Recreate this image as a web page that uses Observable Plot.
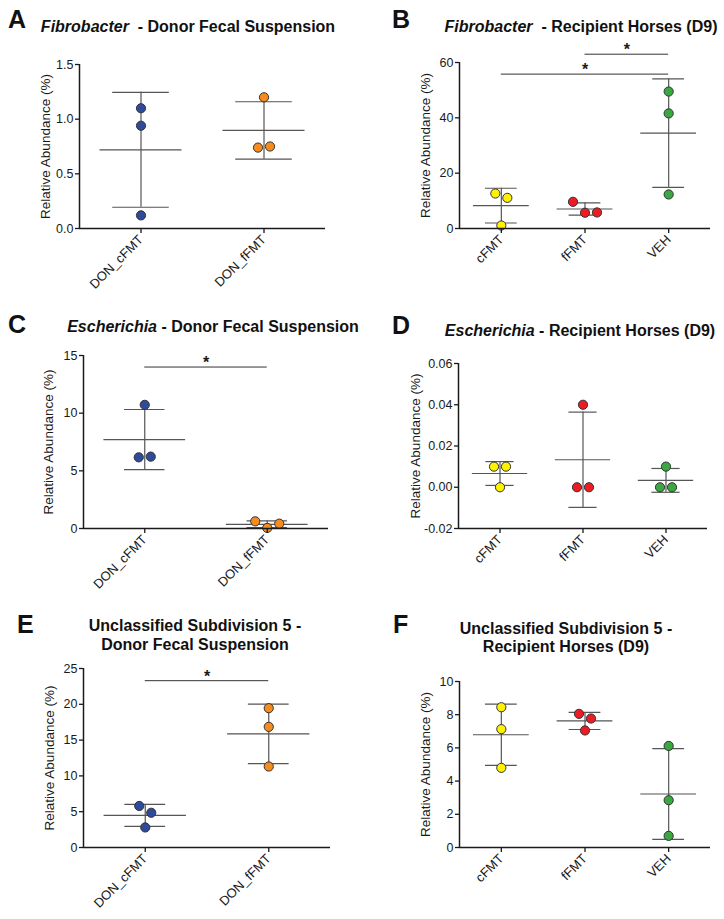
<!DOCTYPE html>
<html><head><meta charset="utf-8">
<script src="https://cdn.jsdelivr.net/npm/d3@7"></script>
<script src="https://cdn.jsdelivr.net/npm/@observablehq/plot@0.6"></script>
<style>
body{margin:0;background:#fff;}
#root{position:relative;width:724px;height:919px;background:#fff;font-family:Arial,"Liberation Sans",sans-serif;color:#111;overflow:hidden;}
.panel{position:absolute;}
.letter{position:absolute;font-weight:bold;font-size:25px;line-height:25px;}
.title{position:absolute;font-weight:bold;font-size:16px;line-height:18.5px;text-align:center;width:400px;white-space:nowrap;}
</style></head>
<body><div id="root"></div>
<script>
// ---------- data ----------
const donorGroups = ["DON_cFMT", "DON_fFMT"];
const recipGroups = ["cFMT", "fFMT", "VEH"];
const donorColors = ["#2e4b9b", "#f68b1f"];
const recipColors = ["#fff200", "#ed1c24", "#3aa842"];

// Fibrobacter - donor
const fibroDonCFMT = [1.10, 0.94, 0.12];
const fibroDonFFMT = [1.20, 0.74, 0.75];
// Fibrobacter - recipients
const fibroRecCFMT = [12.65, 11.08, 1.08];
const fibroRecFFMT = [9.64, 5.7, 5.8];
const fibroRecVEH = [49.5, 41.6, 12.3];
const fibroRecBrackets = [{from: "fFMT", to: "VEH", y: 63}, {from: "cFMT", to: "VEH", y: 55.8}];
// Escherichia - donor
const escDonCFMT = [10.72, 6.17, 6.23];
const escDonFFMT = [0.62, 0.05, 0.42];
const escDonBrackets = [{from: "DON_cFMT", to: "DON_fFMT", y: 14}];
// Escherichia - recipients
const escRecCFMT = [0.010, 0.000, 0.010];
const escRecFFMT = [0.000, 0.040, 0.000];
const escRecVEH = [0.000, 0.010, 0.000];
// Unclassified Subdivision 5 - donor
const usDonCFMT = [5.8, 4.85, 2.8];
const usDonFFMT = [19.46, 16.85, 11.31];
const usDonBrackets = [{from: "DON_cFMT", to: "DON_fFMT", y: 23.3}];
// Unclassified Subdivision 5 - recipients
const usRecCFMT = [8.45, 7.13, 4.80];
const usRecFFMT = [8.05, 7.77, 7.05];
const usRecVEH = [6.12, 2.85, 0.70];

// tick labels
const ticksA = [0, 0.5, 1, 1.5];
const ticksB = [0, 20, 40, 60];
const ticksC = [0, 5, 10, 15];
const ticksD = [-0.02, 0, 0.02, 0.04, 0.06];
const ticksE = [0, 5, 10, 15, 20, 25];
const ticksF = [0, 2, 4, 6, 8, 10];

const yLabel = "Relative Abundance (%)";

// ---------- layout ----------
const panels = [
  {letter: "A", lx: 8, ly: 7, title: "<i>Fibrobacter</i>&nbsp; - Donor Fecal Suspension", tx: 188, ty: 18,
   groups: donorGroups, colors: donorColors, values: [fibroDonCFMT, fibroDonFFMT], ticks: ticksA, dec: 1, brackets: [],
   left: 0, top: 0, w: 362, h: 300, mL: 79, mR: 37, mT: 64, mB: 72, cap: 0.23, lo: 39},
  {letter: "B", lx: 392, ly: 7, title: "<i>Fibrobacter</i>&nbsp; - Recipient Horses (D9)", tx: 581, ty: 18,
   groups: recipGroups, colors: recipColors, values: [fibroRecCFMT, fibroRecFFMT, fibroRecVEH], ticks: ticksB, dec: 0, brackets: fibroRecBrackets,
   left: 362, top: 0, w: 362, h: 300, mL: 97, mR: 14, mT: 62, mB: 72, cap: 0.19, lo: 39},
  {letter: "C", lx: 8, ly: 312, title: "<i>Escherichia</i> - Donor Fecal Suspension", tx: 213, ty: 318,
   groups: donorGroups, colors: donorColors, values: [escDonCFMT, escDonFFMT], ticks: ticksC, dec: 0, brackets: escDonBrackets,
   left: 0, top: 300, w: 362, h: 300, mL: 83, mR: 34, mT: 55, mB: 72, cap: 0.165, lo: 40},
  {letter: "D", lx: 392, ly: 313, title: "<i>Escherichia</i> - Recipient Horses (D9)", tx: 580, ty: 321.5,
   groups: recipGroups, colors: recipColors, values: [escRecCFMT, escRecFFMT, escRecVEH], ticks: ticksD, dec: 2, brackets: [],
   left: 362, top: 300, w: 362, h: 300, mL: 96, mR: 17, mT: 63, mB: 72, cap: 0.17, lo: 48},
  {letter: "E", lx: 17, ly: 612, title: "Unclassified Subdivision 5 -<br>Donor Fecal Suspension", tx: 195, ty: 617,
   groups: donorGroups, colors: donorColors, values: [usDonCFMT, usDonFFMT], ticks: ticksE, dec: 0, brackets: usDonBrackets,
   left: 0, top: 600, w: 362, h: 319, mL: 83, mR: 32, mT: 68, mB: 72, cap: 0.165, lo: 39},
  {letter: "F", lx: 393, ly: 612, title: "Unclassified Subdivision 5 -<br>Recipient Horses (D9)", tx: 566, ty: 619.5,
   groups: recipGroups, colors: recipColors, values: [usRecCFMT, usRecFFMT, usRecVEH], ticks: ticksF, dec: 0, brackets: [],
   left: 362, top: 600, w: 362, h: 319, mL: 97, mR: 14, mT: 81, mB: 72, cap: 0.19, lo: 39}
];

const lineColor = "#555";
const axisColor = "#1a1a1a";
const SPACING = 12;

// horizontal spreading of overlapping dots (like a scatter dot plot)
function slots(vals, pxPerUnit) {
  const idx = d3.range(vals.length).sort((a, b) => vals[b] - vals[a]);
  const out = new Array(vals.length).fill(0);
  let cluster = [idx[0]];
  const flush = () => {
    const c = cluster.slice().sort((a, b) => a - b);
    c.forEach((k, j) => out[k] = j - (c.length - 1) / 2);
  };
  for (let t = 1; t < idx.length; t++) {
    if ((vals[idx[t - 1]] - vals[idx[t]]) * pxPerUnit < 11.5) cluster.push(idx[t]);
    else { flush(); cluster = [idx[t]]; }
  }
  flush();
  return out;
}

const root = document.getElementById("root");

for (const p of panels) {
  const n = p.groups.length;
  const yDomain = [p.ticks[0], p.ticks[p.ticks.length - 1]];
  const xDomain = [-0.5, n - 0.5];
  const pxPerUnit = (p.h - p.mT - p.mB) / (yDomain[1] - yDomain[0]);
  const stats = p.groups.map((g, i) => ({i, g, mean: d3.mean(p.values[i]), sd: d3.deviation(p.values[i])}));
  const pts = [];
  p.values.forEach((vals, i) => {
    const s = slots(vals, pxPerUnit);
    vals.forEach((v, k) => pts.push({i, g: p.groups[i], v, slot: s[k]}));
  });
  const slotVals = Array.from(new Set(pts.map(d => d.slot)));
  const gi = g => p.groups.indexOf(g);

  const chart = Plot.plot({
    width: p.w, height: p.h,
    marginLeft: p.mL, marginRight: p.mR, marginTop: p.mT, marginBottom: p.mB,
    x: {domain: xDomain},
    y: {domain: yDomain},
    color: {domain: p.groups, range: p.colors},
    style: {fontFamily: 'Arial, "Liberation Sans", sans-serif', fontSize: "12px", color: axisColor, background: "transparent", overflow: "visible"},
    marks: [
      Plot.ruleX(stats, {x: "i", y1: d => d.mean - d.sd, y2: d => d.mean + d.sd, stroke: lineColor, strokeWidth: 1.2}),
      Plot.ruleY(stats, {y: "mean", x1: d => d.i - 1/3, x2: d => d.i + 1/3, stroke: lineColor, strokeWidth: 1.2}),
      Plot.ruleY(stats, {y: d => d.mean + d.sd, x1: d => d.i - p.cap, x2: d => d.i + p.cap, stroke: lineColor, strokeWidth: 1.2}),
      Plot.ruleY(stats, {y: d => d.mean - d.sd, x1: d => d.i - p.cap, x2: d => d.i + p.cap, stroke: lineColor, strokeWidth: 1.2}),
      Plot.ruleY(p.brackets, {y: "y", x1: d => gi(d.from), x2: d => gi(d.to), stroke: "#333", strokeWidth: 1}),
      Plot.text(p.brackets, {x: d => (gi(d.from) + gi(d.to)) / 2, y: "y", text: () => "*", lineAnchor: "bottom", dy: 1, fontSize: 16, fontWeight: "bold", fill: axisColor}),
      ...slotVals.map(s => Plot.dot(pts.filter(d => d.slot === s), {x: "i", y: "v", fill: "g", r: 4.6, stroke: "#333", strokeWidth: 1, dx: s * SPACING})),
      Plot.ruleX([xDomain[0]], {stroke: axisColor, strokeWidth: 1.5}),
      Plot.ruleY([yDomain[0]], {stroke: axisColor, strokeWidth: 1.5}),
      Plot.axisY({ticks: p.ticks, tickFormat: d => d.toFixed(p.dec), tickSize: 4, tickPadding: 2, strokeWidth: 1.3, fontSize: 12.5, label: null}),
      Plot.text([yLabel], {frameAnchor: "left", rotate: -90, dx: -p.lo, lineAnchor: "top", textAnchor: "middle", fontSize: 13.5, fill: axisColor}),
      Plot.axisX({ticks: d3.range(n), tickFormat: i => p.groups[i], tickSize: 5, tickPadding: 4, tickRotate: -45, strokeWidth: 1.3, fontSize: 13, label: null})
    ]
  });
  const wrap = document.createElement("div");
  wrap.className = "panel";
  wrap.style.left = p.left + "px";
  wrap.style.top = p.top + "px";
  wrap.appendChild(chart);
  root.appendChild(wrap);

  const L = document.createElement("div");
  L.className = "letter";
  L.style.left = p.lx + "px";
  L.style.top = p.ly + "px";
  L.textContent = p.letter;
  root.appendChild(L);

  const T = document.createElement("div");
  T.className = "title";
  T.style.left = (p.tx - 200) + "px";
  T.style.top = p.ty + "px";
  T.innerHTML = p.title;
  root.appendChild(T);
}
</script>
</body></html>
